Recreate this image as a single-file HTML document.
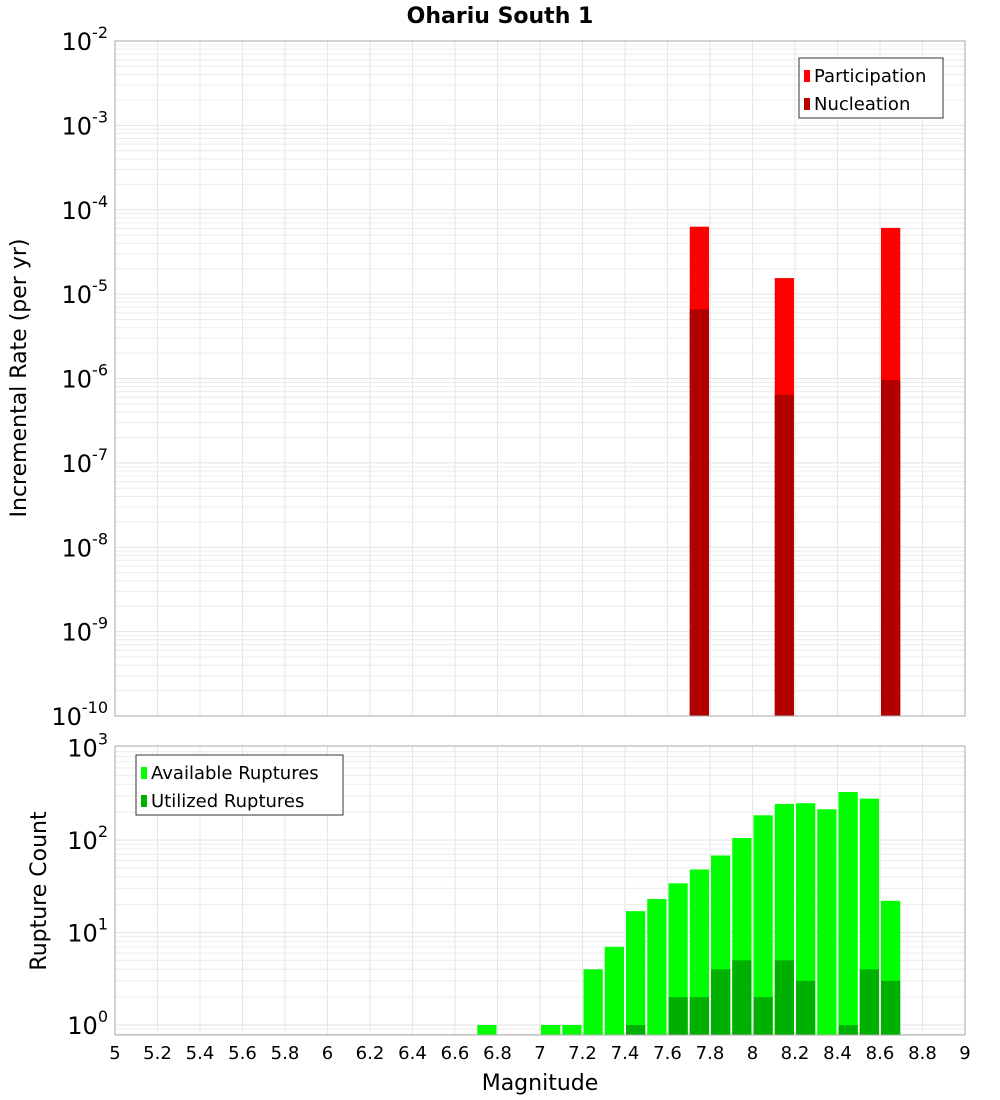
<!DOCTYPE html>
<html><head><meta charset="utf-8"><style>
html,body{margin:0;padding:0;background:#fff}
svg{display:block;font-family:"DejaVu Sans","Liberation Sans",sans-serif}
</style></head><body>
<svg id="c" width="1000" height="1100">
<text x="500" y="23" text-anchor="middle" font-size="22" font-weight="bold">Ohariu South 1</text>
<text transform="translate(26,378) rotate(-90)" text-anchor="middle" font-size="22">Incremental Rate (per yr)</text>
<text transform="translate(46,891) rotate(-90)" text-anchor="middle" font-size="22">Rupture Count</text>
<text x="540" y="1090" text-anchor="middle" font-size="22">Magnitude</text>
<g id="top"></g><g id="bot"></g><g id="xt"></g>
</svg>
<script>
const topMags=[7.75,8.15,8.65];
const participation=[6.3e-5,1.55e-5,6.1e-5];
const nucleation=[6.6e-6,6.4e-7,9.6e-7];
const botMags=[6.75,7.05,7.15,7.25,7.35,7.45,7.55,7.65,7.75,7.85,7.95,8.05,8.15,8.25,8.35,8.45,8.55,8.65];
const available=[1,1,1,4,7,17,23,34,48,68,105,185,245,250,215,330,280,22];
const utilizedMags=[7.45,7.65,7.75,7.85,7.95,8.05,8.15,8.25,8.45,8.55,8.65];
const utilized=[1,2,2,4,5,2,5,3,1,4,3];
const xTicks=["5","5.2","5.4","5.6","5.8","6","6.2","6.4","6.6","6.8","7","7.2","7.4","7.6","7.8","8","8.2","8.4","8.6","8.8","9"];
const topExp=[-2,-3,-4,-5,-6,-7,-8,-9,-10];
const botExp=[3,2,1,0];

const NS="http://www.w3.org/2000/svg";
const X0=115,X1=965;
const xs=m=>X0+(m-5)/4*(X1-X0);
const ty=v=>41+(-2-Math.log10(v))*84.375;
const by=v=>1025-Math.log10(v)*92.5;
function mk(p,tag,a){const e=document.createElementNS(NS,tag);for(const k in a)e.setAttribute(k,a[k]);p.appendChild(e);return e;}
const T=document.getElementById('top'),B=document.getElementById('bot'),XT=document.getElementById('xt');

function grid(g,y0,y1,yf,lo,hi){
  for(let d=lo;d<hi;d++)for(let k=1;k<10;k++){const y=yf(k*Math.pow(10,d));if(y<y0||y>y1)continue;
    const l=mk(g,'line',{x1:X0,x2:X1,y1:y,y2:y,stroke:k==1?'#e2e2e2':'#ececec','stroke-width':1});
    
    }
  xTicks.forEach(t=>{const x=xs(+t);const l=mk(g,'line',{x1:x,x2:x,y1:y0,y2:y1,stroke:'#e6e6e6'});
    
    });
}
function frame(g,y0,y1){const r=mk(g,'rect',{x:X0,y:y0,width:X1-X0,height:y1-y0,fill:'none',stroke:'#aaa'});
  
  }
function ylab(g,y,e){const t=mk(g,'text',{x:108,y:y+9,'text-anchor':'end','font-size':24});
  
  
  t.textContent='10';const s=mk(t,'tspan',{dy:-12,'font-size':16});s.textContent=String(e);}

// top
grid(T,41,716,ty,-10,-2);
topMags.forEach((m,i)=>{
  const x=xs(m-0.05)+1,w=xs(m+0.05)-xs(m-0.05)-2;
  const a=mk(T,'rect',{x:x,y:ty(participation[i]),width:w,height:716-ty(participation[i]),fill:'#ff0000'});
  
  
  const b=mk(T,'rect',{x:x,y:ty(nucleation[i]),width:w,height:716-ty(nucleation[i]),fill:'#b20000'});
  
  
});
frame(T,41,716);
topExp.forEach(e=>ylab(T,ty(Math.pow(10,e)),e));

// bottom
grid(B,746,1035,by,-1,3);
botMags.forEach((m,i)=>{
  const x=xs(m-0.05)+1,w=xs(m+0.05)-xs(m-0.05)-2;
  const r=mk(B,'rect',{x:x,y:by(available[i]),width:w,height:1035-by(available[i]),fill:'#00ff00'});
  
  
});
utilizedMags.forEach((m,i)=>{
  const x=xs(m-0.05)+1,w=xs(m+0.05)-xs(m-0.05)-2;
  const r=mk(B,'rect',{x:x,y:by(utilized[i]),width:w,height:1035-by(utilized[i]),fill:'#00b000'});
  
  
});
frame(B,746,1035);
botExp.forEach(e=>ylab(B,by(Math.pow(10,e)),e));

xTicks.forEach(t=>{const e=mk(XT,'text',{x:xs(+t),y:1059,'text-anchor':'middle','font-size':18});
  
  
  e.textContent=t;});

function legend(g,x,y,w,items){
  const r=mk(g,'rect',{x:x,y:y,width:w,height:60,fill:'#fff',stroke:'#333'});
  
  
  items.forEach((it,i)=>{
    const s=mk(g,'rect',{x:x+5,y:y+12+i*28,width:6,height:12,fill:it[1]});
    
    
    const t=mk(g,'text',{x:x+15,y:y+24+i*28,'font-size':18});
    
    
    t.textContent=it[0];});
}
legend(T,799,58,144,[['Participation','#ff0000'],['Nucleation','#b20000']]);
legend(B,136,755,207,[['Available Ruptures','#00ff00'],['Utilized Ruptures','#00b000']]);
</script>
</body></html>
